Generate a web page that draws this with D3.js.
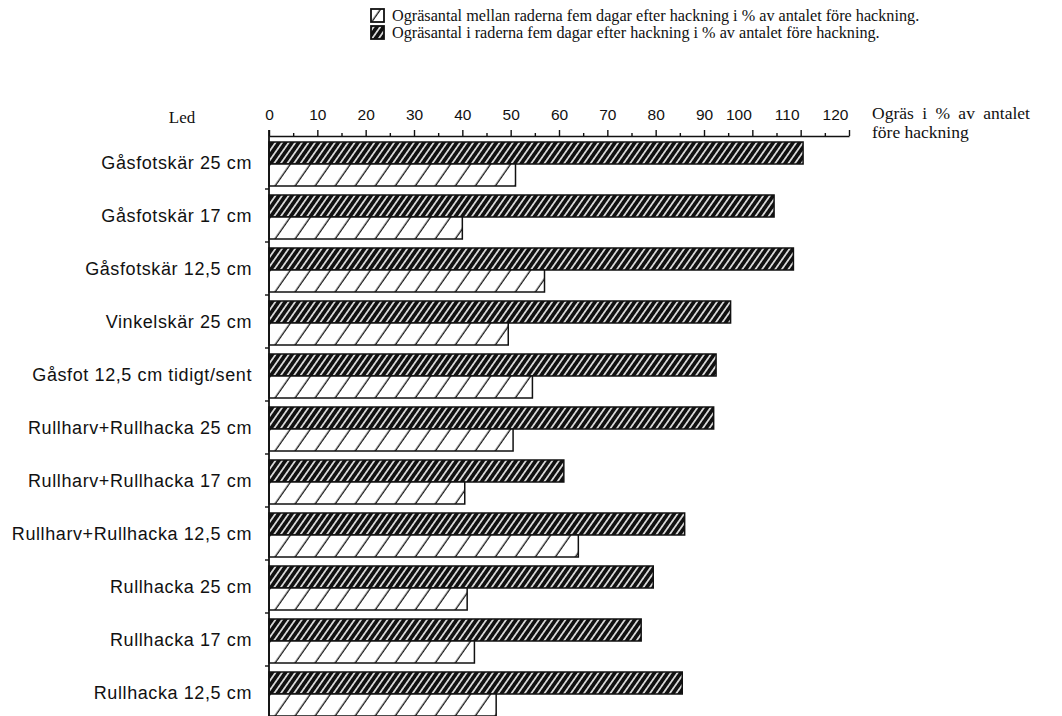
<!DOCTYPE html>
<html>
<head>
<meta charset="utf-8">
<script src="https://cdn.jsdelivr.net/npm/d3@7"></script>
<style>
  html, body { margin: 0; padding: 0; background: #fff; }
  svg { display: block; }
</style>
</head>
<body>
<svg id="chart" width="1062" height="716"></svg>
<script>
// Weed counts five days after hoeing, in % of the count before hoeing
const categories = [
  "Gåsfotskär 25 cm",
  "Gåsfotskär 17 cm",
  "Gåsfotskär 12,5 cm",
  "Vinkelskär 25 cm",
  "Gåsfot 12,5 cm tidigt/sent",
  "Rullharv+Rullhacka 25 cm",
  "Rullharv+Rullhacka 17 cm",
  "Rullharv+Rullhacka 12,5 cm",
  "Rullhacka 25 cm",
  "Rullhacka 17 cm",
  "Rullhacka 12,5 cm"
];
// in the rows (dense hatch)
const iRaderna = [110.5, 104.5, 108.5, 95.5, 92.5, 92, 61, 86, 79.5, 77, 85.5];
// between the rows (open hatch)
const mellanRaderna = [51, 40, 57, 49.5, 54.5, 50.5, 40.5, 64, 41, 42.5, 47];

const xTicks = [0, 10, 20, 30, 40, 50, 60, 70, 80, 90, 100, 110, 120];
const xMinorTicks = [5, 15, 25, 35, 45, 55, 65, 75, 85, 95, 105, 115];

const seriesKeys = ["i", "mellan"];
const legendTexts = [
  "Ogräsantal mellan raderna fem dagar efter hackning i % av antalet före hackning.",
  "Ogräsantal i raderna fem dagar efter hackning i % av antalet före hackning."
];
const axisTitle = ["Ogräs i % av antalet", "före hackning"];
const rowTitle = "Led";

const SANS = "'Liberation Sans', Arial, Helvetica, sans-serif";
const SERIF = "'Liberation Serif', 'Times New Roman', serif";

const svg = d3.select("#chart");

// hatch patterns
const defs = svg.append("defs");
const dense = defs.append("pattern")
  .attr("id", "hatchDense")
  .attr("patternUnits", "userSpaceOnUse")
  .attr("width", 5.4).attr("height", 10)
  .attr("patternTransform", "rotate(35)");
dense.append("rect").attr("width", 5.4).attr("height", 10).attr("fill", "#111");
dense.append("line").attr("x1", 2.7).attr("x2", 2.7).attr("y1", 0).attr("y2", 10)
  .attr("stroke", "#fff").attr("stroke-width", 1.5);

const open = defs.append("pattern")
  .attr("id", "hatchOpen")
  .attr("patternUnits", "userSpaceOnUse")
  .attr("width", 16.4).attr("height", 10)
  .attr("patternTransform", "rotate(35)");
open.append("rect").attr("width", 16.4).attr("height", 10).attr("fill", "#fff");
open.append("line").attr("x1", 8).attr("x2", 8).attr("y1", 0).attr("y2", 10)
  .attr("stroke", "#111").attr("stroke-width", 1.3);

const fills = { i: "url(#hatchDense)", mellan: "url(#hatchOpen)" };

// scales
const x = d3.scaleLinear().domain([0, 120]).range([269, 849]);
const y = d3.scaleBand().domain(categories).range([136, 719]).padding(0);
const ySub = d3.scaleBand().domain(seriesKeys).range([6, 50]).padding(0);

// bars
const rows = categories.map((c, i) => ({ c, i: iRaderna[i], mellan: mellanRaderna[i] }));
const g = svg.append("g");
const rowG = g.selectAll("g.row").data(rows).join("g")
  .attr("class", "row")
  .attr("transform", d => `translate(0,${y(d.c)})`);
rowG.selectAll("rect").data(d => seriesKeys.map(k => ({ k, v: d[k] }))).join("rect")
  .attr("x", x(0))
  .attr("y", d => ySub(d.k))
  .attr("width", d => x(d.v) - x(0))
  .attr("height", ySub.bandwidth())
  .attr("fill", d => fills[d.k])
  .attr("stroke", "#111")
  .attr("stroke-width", 1.5);

// top axis
const axisTop = d3.axisTop(x).tickValues(xTicks).tickSize(6).tickSizeOuter(0).tickPadding(10);
const ax = svg.append("g").attr("transform", `translate(0,${136})`).call(axisTop);
ax.select(".domain").attr("stroke", "#111").attr("stroke-width", 1.6);
ax.selectAll(".tick line").attr("stroke", "#111").attr("stroke-width", 1.4);
ax.selectAll(".tick text")
  .attr("font-family", SANS).attr("font-size", 15.5).attr("fill", "#111")
  .attr("dx", d => d >= 100 ? -14 : 0);
const axMinor = svg.append("g").attr("transform", `translate(0,${136})`)
  .call(d3.axisTop(x).tickValues(xMinorTicks).tickSize(3).tickSizeOuter(0).tickFormat(""));
axMinor.select(".domain").remove();
axMinor.selectAll(".tick line").attr("stroke", "#111").attr("stroke-width", 1.4);

// left axis line with ticks between rows
const yBoundaries = categories.slice(1);
svg.append("line")
  .attr("x1", x(0)).attr("x2", x(0))
  .attr("y1", 130).attr("y2", 716)
  .attr("stroke", "#111").attr("stroke-width", 1.8);
svg.selectAll("line.ytick").data(yBoundaries).join("line")
  .attr("class", "ytick")
  .attr("x1", x(0) - 4).attr("x2", x(0))
  .attr("y1", d => y(d)).attr("y2", d => y(d))
  .attr("stroke", "#111").attr("stroke-width", 1.4);

// category labels
svg.selectAll("text.cat").data(categories).join("text")
  .attr("class", "cat")
  .attr("x", 252)
  .attr("y", d => y(d) + y.bandwidth() / 2 + 6)
  .attr("text-anchor", "end")
  .attr("font-family", SANS)
  .attr("font-size", 18)
  .attr("letter-spacing", 0.6)
  .attr("fill", "#111")
  .text(d => d);

// row heading
svg.append("text")
  .attr("x", 182).attr("y", 123)
  .attr("text-anchor", "middle")
  .attr("font-family", SERIF).attr("font-size", 17)
  .attr("fill", "#111")
  .text(rowTitle);

// value axis title
svg.selectAll("text.atitle").data(axisTitle).join("text")
  .attr("class", "atitle")
  .attr("x", 872)
  .attr("y", (d, i) => 119 + i * 19)
  .attr("font-family", SERIF).attr("font-size", 17.5)
  .attr("word-spacing", (d, i) => i === 0 ? 4 : 0)
  .attr("fill", "#111")
  .text(d => d);

// legend
const legendKeys = ["mellan", "i"];
const lg = svg.selectAll("g.legend").data(legendKeys).join("g")
  .attr("class", "legend")
  .attr("transform", (d, i) => `translate(371,${9 + i * 17})`);
lg.append("rect")
  .attr("width", 13).attr("height", 13)
  .attr("fill", d => fills[d])
  .attr("stroke", "#111").attr("stroke-width", 1.8);
lg.append("text")
  .attr("x", 21).attr("y", 12)
  .attr("font-family", SERIF).attr("font-size", 16.2)
  .attr("fill", "#111")
  .text((d, i) => legendTexts[i]);
</script>
</body>
</html>
